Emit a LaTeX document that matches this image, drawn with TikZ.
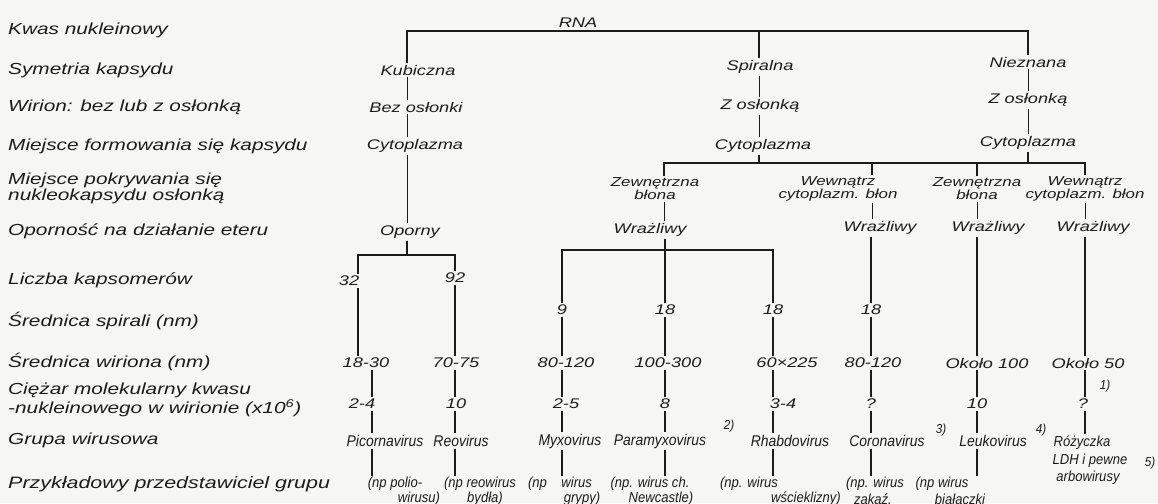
\documentclass[tikz,border=0pt]{standalone}
\usepackage{fontspec}
\newfontfamily\handfont[FakeStretch=1.3]{Liberation Sans}
\newfontfamily\handnarrow[FakeStretch=0.9]{Liberation Sans}
\usepackage{xcolor}
\definecolor{virink}{HTML}{1C1C1C}
\definecolor{virpaper}{HTML}{F6F6F4}
\usetikzlibrary{positioning,calc}
\tikzset{
  virhead/.style={anchor=west,inner sep=0pt,align=left,text=virink,font=\handfont\itshape\fontsize{16}{14}\selectfont},
  virnode/.style={inner sep=2pt,align=center,text=virink,font=\handfont\itshape\fontsize{14}{14}\selectfont},
  virsmall/.style={inner sep=1.5pt,align=center,text=virink,font=\handfont\itshape\fontsize{13}{13}\selectfont},
  virgroup/.style={inner sep=2pt,text=virink,font=\handnarrow\itshape\fontsize{15.5}{14}\selectfont},
  virex/.style={inner sep=1.5pt,text=virink,font=\handnarrow\itshape\fontsize{14.5}{13}\selectfont},
  virnote/.style={inner sep=0pt,text=virink,font=\handnarrow\itshape\fontsize{13}{12}\selectfont},
  virline/.style={draw=virink,line width=1.3pt},
  virtick/.style={draw=virink,line width=0.9pt},
}
\begin{document}
\begin{tikzpicture}[x=1pt,y=-1pt]
 % paper
\fill[virpaper] (0,0) rectangle (1158,503);
\useasboundingbox (0,0) rectangle (1158,503);
 % row headings
\node[virhead] (hkwas) at (8,30) {Kwas nukleinowy};
\node[virhead] (hsym) at (8,70) {Symetria kapsydu};
\node[virhead] (hwir) at (8,107) {Wirion: bez lub z osłonką};
\node[virhead] (hform) at (8,146) {Miejsce formowania się kapsydu};
\node[virhead] (hpokr) at (8,188) {Miejsce pokrywania się\\nukleokapsydu osłonką};
\node[virhead] (heter) at (8,231) {Oporność na działanie eteru};
\node[virhead] (hkaps) at (8,280) {Liczba kapsomerów};
\node[virhead] (hspir) at (8,321) {Średnica spirali (nm)};
\node[virhead] (hwrn) at (8,362) {Średnica wiriona (nm)};
\node[virhead] (hciez) at (8,400) {Ciężar molekularny kwasu\\-nukleinowego w wirionie (x10\textsuperscript{6})};
\node[virhead] (hgrup) at (8,440) {Grupa wirusowa};
\node[virhead,font=\handfont\itshape\fontsize{16.5}{14}\selectfont] (hprz) at (8,484) {Przykładowy przedstawiciel grupu};
 % columns
\coordinate (ka) at (407,0);
\coordinate (ks) at (759,0);
\coordinate (kn) at (1028,0);
\coordinate (kz1) at (664,0);
\coordinate (kw1) at (872,0);
\coordinate (kz2) at (977,0);
\coordinate (kw2) at (1085,0);
\coordinate (k0) at (358,0);
\coordinate (k1) at (372,0);
\coordinate (k2) at (455,0);
\coordinate (k3) at (562,0);
\coordinate (k4) at (665,0);
\coordinate (k5) at (773,0);
\coordinate (k6) at (871,0);
\coordinate (k7) at (977,0);
\coordinate (k8) at (1085,0);
\coordinate (kbar) at (0,255);
\coordinate (cbar) at (0,163);
\coordinate (wbar) at (0,250);
 % nucleic acid and symmetry
\node[virnode,anchor=south,inner sep=3pt] (rna) at (578,31) {RNA};
\node[virnode] (kub) at (418,70) {Kubiczna};
\node[virnode] (bez) at (416,107) {Bez osłonki};
\node[virnode] (cyt1) at (415,146) {Cytoplazma};
\node[virnode] (opo) at (410,232) {Oporny};
\node[virnode] (spi) at (760,67) {Spiralna};
\node[virnode] (zos1) at (760,106) {Z osłonką};
\node[virnode] (cyt2) at (763,146) {Cytoplazma};
\node[virnode] (nie) at (1028,62) {Nieznana};
\node[virnode] (zos2) at (1028,100) {Z osłonką};
\node[virnode] (cyt3) at (1028,143) {Cytoplazma};
 % envelope place and ether
\node[virsmall] (zew1) at (655,189) {Zewnętrzna\\błona};
\node[virsmall] (wew1) at (838,189) {Wewnątrz\\cytoplazm. błon};
\node[virsmall] (zew2) at (977,189) {Zewnętrzna\\błona};
\node[virsmall] (wew2) at (1085,189) {Wewnątrz\\cytoplazm. błon};
\node[virnode] (wr1) at (650,230) {Wrażliwy};
\node[virnode] (wr2) at (880,228) {Wrażliwy};
\node[virnode] (wr3) at (988,228) {Wrażliwy};
\node[virnode] (wr4) at (1093,228) {Wrażliwy};
 % capsomers and spiral
\node[virnode] (n32) at (349,281) {32};
\node[virnode] (n92) at (455,278) {92};
\node[virnode] (s3) at (562,310) {9};
\node[virnode] (s4) at (665,310) {18};
\node[virnode] (s5) at (773,310) {18};
\node[virnode] (s6) at (871,310) {18};
 % virion diameter
\node[virnode] (w1) at (366,363) {18-30};
\node[virnode] (w2) at (456,363) {70-75};
\node[virnode] (w3) at (566,363) {80-120};
\node[virnode] (w4) at (668,363) {100-300};
\node[virnode] (w5) at (787,363) {60×225};
\node[virnode] (w6) at (873,363) {80-120};
\node[virnode] (w7) at (987,363) {Około 100};
\node[virnode] (w8) at (1088,363) {Około 50};
 % molecular weight
\node[virnode] (c1) at (362,404) {2-4};
\node[virnode] (c2) at (456,404) {10};
\node[virnode] (c3) at (566,404) {2-5};
\node[virnode] (c4) at (665,404) {8};
\node[virnode] (c5) at (783,404) {3-4};
\node[virnode] (c6) at (871,404) {?};
\node[virnode] (c7) at (977,404) {10};
\node[virnode] (c8) at (1083,404) {?};
 % groups
\node[virgroup] (g1) at (385,441) {Picornavirus};
\node[virgroup] (g2) at (461,441) {Reovirus};
\node[virgroup] (g3) at (570,441) {Myxovirus};
\node[virgroup] (g4) at (660,441) {Paramyxovirus};
\node[virgroup] (g5) at (790,441) {Rhabdovirus};
\node[virgroup] (g6) at (887,441) {Coronavirus};
\node[virgroup] (g7) at (993,441) {Leukovirus};
\node[virex] (g8) at (1082,443) {Różyczka};
\node[virex] (g8b) at (1090,461) {LDH i pewne};
\node[virex] (g8c) at (1088,478) {arbowirusy};
\node[virnote] (fn1) at (1105,386) {1)};
\node[virnote] (fn2) at (729,426) {2)};
\node[virnote] (fn3) at (941,430) {3)};
\node[virnote] (fn4) at (1041,430) {4)};
\node[virnote] (fn5) at (1150,463) {5)};
 % examples
\node[virex] (p1) at (395,484) {(np polio-};
\node[virex] (p1b) at (419,499) {wirusu)};
\node[virex] (p2) at (480,484) {(np reowirus};
\node[virex] (p2b) at (485,499) {bydła)};
\node[virex] (p3) at (560,484) {(np\quad wirus};
\node[virex] (p3b) at (582,499) {grypy)};
\node[virex] (p4) at (650,484) {(np. wirus ch.};
\node[virex] (p4b) at (661,499) {Newcastle)};
\node[virex] (p5) at (749,484) {(np. wirus};
\node[virex] (p5b) at (806,499) {wścieklizny)};
\node[virex] (p6) at (875,484) {(np. wirus};
\node[virex] (p6b) at (873,499) {zakaź.};
\node[virex] (p7) at (942,484) {(np wirus};
\node[virex] (p7b) at (960,499) {białaczki};
 % brackets
\draw[virline] (kub.north -| ka) |- (rna.south) -| (nie.north -| kn);
\draw[virline] (spi.north -| ks) -- (ks |- rna.south);
\draw[virline] (zew1.north -| kz1) -- (kz1 |- cbar) -- (kw2 |- cbar) -- (wew2.north -| kw2);
\draw[virline] (wew1.north -| kw1) -- (kw1 |- cbar);
\draw[virline] (zew2.north -| kz2) -- (kz2 |- cbar);
\draw[virline] (cyt2.south -| ks) -- (ks |- cbar);
\draw[virline] (cyt3.south -| kn) -- (kn |- cbar);
\draw[virline] (opo.south -| ka) -- (ka |- kbar);
\draw[virline] (n32.north -| k0) -- (k0 |- kbar) -- (k2 |- kbar) -- (n92.north -| k2);
\draw[virline] (s3.north -| k3) -- (k3 |- wbar) -- (k5 |- wbar) -- (s5.north -| k5);
\draw[virline] (wr1.south -| k4) -- (s4.north -| k4);
 % upper chains
\foreach \a/\b/\k in {kub/bez/ka, bez/cyt1/ka, cyt1/opo/ka, spi/zos1/ks, zos1/cyt2/ks,
    nie/zos2/kn, zos2/cyt3/kn, zew1/wr1/kz1, wew1/wr2/kw1, zew2/wr3/kz2, wew2/wr4/kw2}
  \draw[virtick] (\a.south -| \k) -- (\b.north -| \k);
 % lower chains
\foreach \a/\b/\k in {n32/w1/k0, w1/c1/k1, c1/g1/k1, g1/p1/k1,
    n92/w2/k2, w2/c2/k2, c2/g2/k2, g2/p2/k2,
    s3/w3/k3, w3/c3/k3, c3/g3/k3, g3/p3/k3,
    s4/w4/k4, w4/c4/k4, c4/g4/k4, g4/p4/k4,
    s5/w5/k5, w5/c5/k5, c5/g5/k5, g5/p5/k5,
    wr2/s6/k6, s6/w6/k6, w6/c6/k6, c6/g6/k6, g6/p6/k6,
    wr3/w7/k7, w7/c7/k7, c7/g7/k7, g7/p7/k7,
    wr4/w8/k8, w8/c8/k8, c8/g8/k8}
  \draw[virline] (\a.south -| \k) -- (\b.north -| \k);
\end{tikzpicture}
\end{document}
